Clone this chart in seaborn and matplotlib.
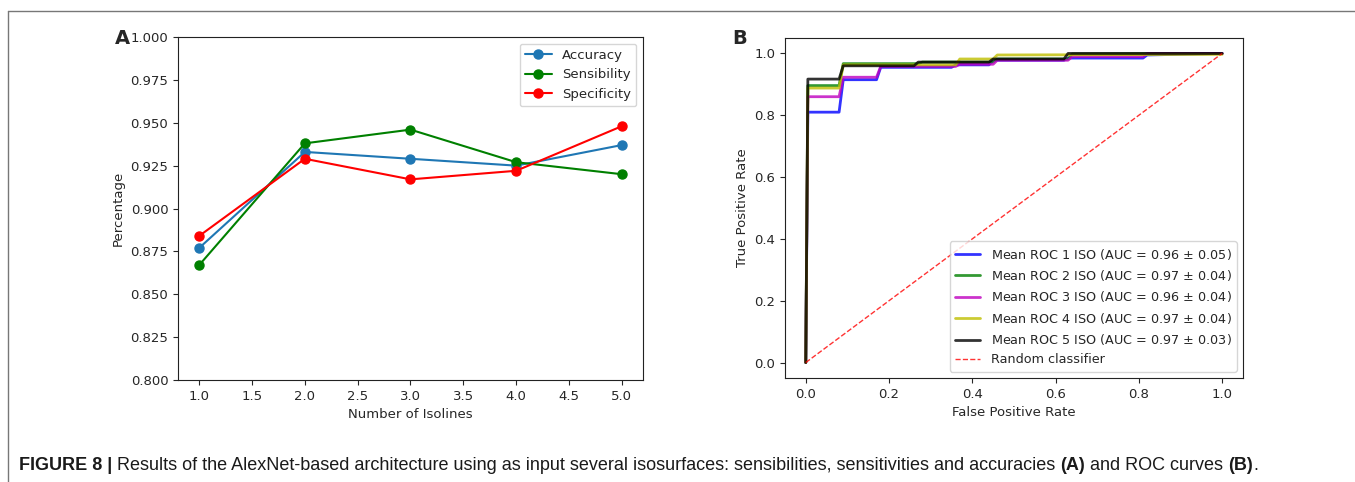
import numpy as np
import pandas as pd
import matplotlib
matplotlib.use("Agg")
import matplotlib.pyplot as plt
from matplotlib.lines import Line2D
import seaborn as sns

# panel A: metrics per number of isolines
isolines = [1, 2, 3, 4, 5]
accuracy = [0.877, 0.933, 0.929, 0.925, 0.937]
sensibility = [0.867, 0.938, 0.946, 0.927, 0.920]
specificity = [0.884, 0.929, 0.917, 0.922, 0.948]
metric_names = ["Accuracy", "Sensibility", "Specificity"]
metric_colors = ["#1f77b4", "g", "r"]

# panel B: mean ROC curves
roc1_fpr = [0.0, 0.005, 0.08, 0.09, 0.17, 0.18, 0.35, 0.36, 0.44, 0.45, 0.62, 0.63, 0.81, 0.82, 1.0]
roc1_tpr = [0.0, 0.81, 0.81, 0.915, 0.915, 0.955, 0.955, 0.963, 0.963, 0.978, 0.978, 0.985, 0.985, 0.995, 1.0]
roc2_fpr = [0.0, 0.005, 0.08, 0.09, 0.27, 0.28, 0.45, 0.46, 0.63, 0.64, 1.0]
roc2_tpr = [0.0, 0.896, 0.896, 0.967, 0.967, 0.972, 0.972, 0.982, 0.982, 0.998, 1.0]
roc3_fpr = [0.0, 0.005, 0.08, 0.09, 0.17, 0.18, 0.36, 0.37, 0.45, 0.46, 0.63, 0.64, 0.81, 0.82, 1.0]
roc3_tpr = [0.0, 0.86, 0.86, 0.923, 0.923, 0.958, 0.958, 0.965, 0.965, 0.978, 0.978, 0.99, 0.99, 1.0, 1.0]
roc4_fpr = [0.0, 0.005, 0.08, 0.09, 0.36, 0.37, 0.45, 0.46, 1.0]
roc4_tpr = [0.0, 0.888, 0.888, 0.963, 0.963, 0.982, 0.982, 0.995, 0.997]
roc5_fpr = [0.0, 0.005, 0.08, 0.09, 0.26, 0.27, 0.44, 0.45, 0.62, 0.63, 1.0]
roc5_tpr = [0.0, 0.917, 0.917, 0.96, 0.96, 0.972, 0.972, 0.982, 0.982, 1.0, 1.0]
roc_labels = [
    "Mean ROC 1 ISO (AUC = 0.96 $\\pm$ 0.05)",
    "Mean ROC 2 ISO (AUC = 0.97 $\\pm$ 0.04)",
    "Mean ROC 3 ISO (AUC = 0.96 $\\pm$ 0.04)",
    "Mean ROC 4 ISO (AUC = 0.97 $\\pm$ 0.04)",
    "Mean ROC 5 ISO (AUC = 0.97 $\\pm$ 0.03)",
]
roc_colors = ["b", "g", "m", "y", "k"]

sns.set_style("ticks")
plt.rcParams["font.family"] = ["DejaVu Sans"]
plt.rcParams["font.size"] = 9.5
plt.rcParams["axes.edgecolor"] = "#222222"

fig = plt.figure(figsize=(13.55, 4.82), dpi=100)
ax_a = fig.add_axes([0.1314, 0.2116, 0.3431, 0.7116])
ax_b = fig.add_axes([0.5793, 0.2158, 0.3380, 0.7054])

# --- panel A
for name, vals, col in zip(metric_names, [accuracy, sensibility, specificity], metric_colors):
    sns.lineplot(x=isolines, y=vals, ax=ax_a, color=col, marker="o", markersize=6.5,
                 markeredgecolor=col, markeredgewidth=1, linewidth=1.5, label=name)
ax_a.set_ylim(0.8, 1.0)
ax_a.set_xlim(0.8, 5.2)
ax_a.set_yticks(np.arange(0.8, 1.0001, 0.025))
ax_a.set_yticklabels([f"{v:.3f}" for v in np.arange(0.8, 1.0001, 0.025)])
ax_a.set_xticks(np.arange(1.0, 5.01, 0.5))
ax_a.set_xticklabels([f"{v:.1f}" for v in np.arange(1.0, 5.01, 0.5)])
ax_a.set_xlabel("Number of Isolines")
ax_a.set_ylabel("Percentage")
ax_a.legend(loc="upper right", fontsize=9.5)
ax_a.tick_params(labelsize=9.5)

# --- panel B
roc_fprs = [roc1_fpr, roc2_fpr, roc3_fpr, roc4_fpr, roc5_fpr]
roc_tprs = [roc1_tpr, roc2_tpr, roc3_tpr, roc4_tpr, roc5_tpr]
for fpr, tpr, lab, col in zip(roc_fprs, roc_tprs, roc_labels, roc_colors):
    df = pd.DataFrame({"fpr": fpr, "tpr": tpr})
    sns.lineplot(data=df, x="fpr", y="tpr", ax=ax_b, color=col, linewidth=2,
                 alpha=0.8, label=lab, sort=False, estimator=None)
sns.lineplot(x=[0, 1], y=[0, 1], ax=ax_b, color="r", linestyle="--", linewidth=1,
             alpha=0.8, label="Random classifier")
ax_b.set_xlim(-0.05, 1.05)
ax_b.set_ylim(-0.05, 1.05)
ax_b.set_xticks(np.arange(0, 1.01, 0.2))
ax_b.set_xticklabels([f"{v:.1f}" for v in np.arange(0, 1.01, 0.2)])
ax_b.set_yticks(np.arange(0, 1.01, 0.2))
ax_b.set_yticklabels([f"{v:.1f}" for v in np.arange(0, 1.01, 0.2)])
ax_b.set_xlabel("False Positive Rate")
ax_b.set_ylabel("True Positive Rate")
ax_b.legend(loc="lower right", fontsize=9.2)
ax_b.tick_params(labelsize=9.5)

for ax in (ax_a, ax_b):
    for s in ax.spines.values():
        s.set_visible(True)

# panel letters
fig.text(115 / 1355, 1 - 38 / 482, "A", fontsize=14, fontweight="bold", va="center", ha="left")
fig.text(732 / 1355, 1 - 38 / 482, "B", fontsize=14, fontweight="bold", va="center", ha="left")

# frame lines
fig.add_artist(Line2D([8 / 1355, 1.0], [1 - 11 / 482, 1 - 11 / 482], color="#777777", lw=1))
fig.add_artist(Line2D([8 / 1355, 8 / 1355], [1 - 11 / 482, 0.0], color="#777777", lw=1))

# caption with bold parts
caption_parts = [
    ("FIGURE 8 | ", "bold"),
    ("Results of the AlexNet-based architecture using as input several isosurfaces: sensibilities, sensitivities and accuracies ", "normal"),
    ("(A)", "bold"),
    (" and ROC curves ", "normal"),
    ("(B)", "bold"),
    (".", "normal"),
]
renderer = fig.canvas.get_renderer()
x_px = 19
y_cap = 1 - 466 / 482
for txt, wt in caption_parts:
    t = fig.text(x_px / 1355, y_cap, txt, fontsize=12.95, fontweight=wt, color="#1a1a1a",
                 family=["Liberation Sans", "DejaVu Sans"], va="center", ha="left")
    bb = t.get_window_extent(renderer=renderer)
    x_px += bb.width

fig.savefig("out.png", dpi=100)
